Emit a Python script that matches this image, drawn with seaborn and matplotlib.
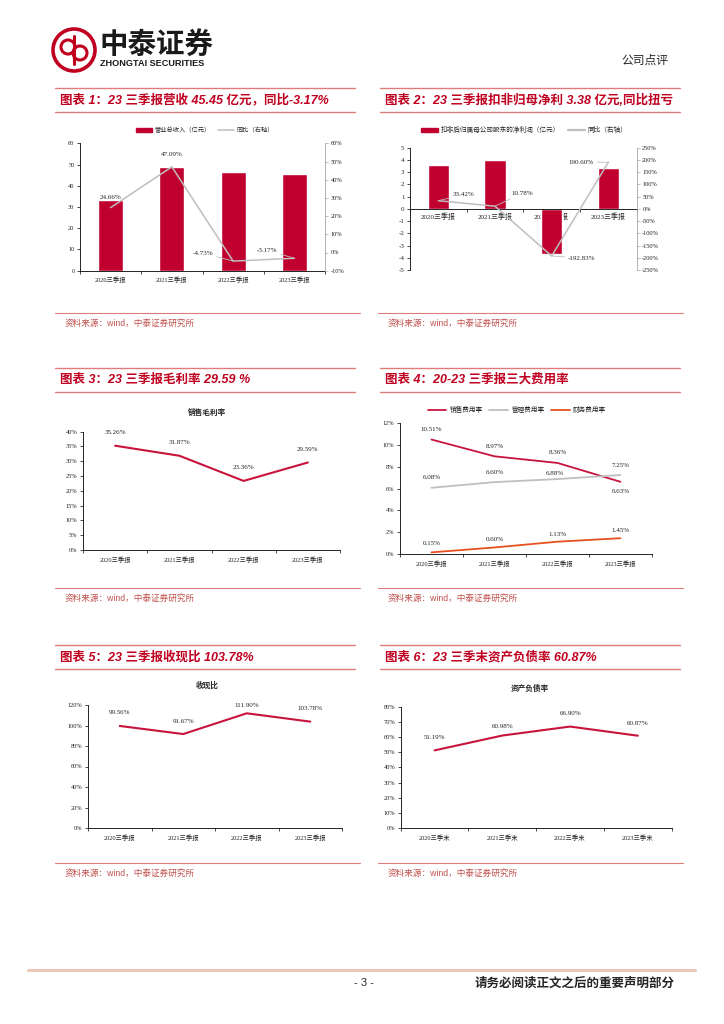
import matplotlib
matplotlib.use("Agg")

import numpy as np
import pandas as pd
import matplotlib.pyplot as plt
import seaborn as sns
from matplotlib.patches import Patch, Circle
from matplotlib.lines import Line2D
from matplotlib.ticker import FuncFormatter

W, H = 724, 1024

# ---- data ----
q3_years = ["2020三季报", "2021三季报", "2022三季报", "2023三季报"]
q3_end_years = ["2020三季末", "2021三季末", "2022三季末", "2023三季末"]

revenue = [33.30, 48.98, 46.66, 45.45]          # 亿元
revenue_yoy = [24.66, 47.09, -4.73, -3.17]      # %

net_profit = [3.61, 4.00, -3.71, 3.38]          # 亿元
net_profit_yoy = [33.42, 10.78, -192.83, 190.60]

gross_margin = [35.26, 31.87, 23.36, 29.59]

selling_rate = [10.51, 8.97, 8.36, 6.63]
admin_rate = [6.08, 6.60, 6.88, 7.25]
finance_rate = [0.15, 0.60, 1.13, 1.45]

cash_ratio = [99.56, 91.67, 111.90, 103.78]
debt_ratio = [51.19, 60.98, 66.90, 60.87]

titles = [
    "图表 1：23 三季报营收 45.45 亿元，同比-3.17%",
    "图表 2：23 三季报扣非归母净利 3.38 亿元,同比扭亏",
    "图表 3：23 三季报毛利率 29.59 %",
    "图表 4：20-23 三季报三大费用率",
    "图表 5：23 三季报收现比 103.78%",
    "图表 6：23 三季末资产负债率 60.87%",
]
source_text = "资料来源：wind，中泰证券研究所"

# ---- style ----
sns.set_theme(style="white")
plt.rcParams["font.family"] = ["Liberation Serif", "Noto Sans CJK SC", "DejaVu Sans"]
plt.rcParams["axes.unicode_minus"] = False

RED = "#C0002F"
LINE_RED = "#C8143C"
GRAY = "#BFBFBF"
ORANGE = "#E8501E"
TITLE_RED = "#C00020"
RULE = "#DE7B7B"
SRC = "#C0504D"
SANS = ["Liberation Sans", "Noto Sans CJK SC"]
CJK = ["Noto Sans CJK SC", "DejaVu Sans"]
FS = 4.6

pct = FuncFormatter(lambda v, _: f"{v:.0f}%")

fig = plt.figure(figsize=(W / 100, H / 100), dpi=100)
bg = fig.add_axes([0, 0, 1, 1], zorder=-1)
bg.set_xlim(0, W)
bg.set_ylim(H, 0)
bg.axis("off")


def px_axes(left, top, right, bottom):
    return fig.add_axes([left / W, 1 - bottom / H, (right - left) / W, (bottom - top) / H])


def base_style(ax, labels, fs=FS):
    n = len(labels)
    ax.set_xlim(-0.5, n - 0.5)
    ax.set_xticks(np.arange(n))
    ax.set_xticklabels(labels)
    ax.set_xticks(np.arange(n + 1) - 0.5, minor=True)
    ax.tick_params(axis="x", which="major", bottom=False, length=0, pad=4.5, labelsize=fs)
    ax.tick_params(axis="x", which="minor", bottom=True, length=2.5, width=0.5,
                   color="black", direction="out")
    ax.tick_params(axis="y", which="major", left=True, length=2.5, width=0.5,
                   color="black", direction="out", labelsize=fs, pad=1.5)
    for s in ("top", "right"):
        ax.spines[s].set_visible(False)
    for s in ("left", "bottom"):
        ax.spines[s].set_color("black")
        ax.spines[s].set_linewidth(0.6)
    ax.set_xlabel("")
    ax.set_ylabel("")
    ax.grid(False)


def right_style(ax):
    for s in ("top", "left", "bottom"):
        ax.spines[s].set_visible(False)
    ax.spines["right"].set_visible(True)
    ax.spines["right"].set_color("#A6A6A6")
    ax.spines["right"].set_linewidth(0.6)
    ax.tick_params(axis="y", right=True, left=False, length=2.5, width=0.5,
                   color="#A6A6A6", direction="out", labelsize=FS, pad=1.5)
    ax.yaxis.set_major_formatter(pct)
    ax.set_ylabel("")
    ax.set_xlabel("")
    ax.grid(False)


def annotate_all(ax, values, offsets, leaders=None, fs=5):
    if leaders is None:
        leaders = [False] * len(values)
    for i, (v, (dx, dy), ld) in enumerate(zip(values, offsets, leaders)):
        kw = {}
        if ld:
            kw["arrowprops"] = dict(arrowstyle="-", color=GRAY, lw=0.6, shrinkA=0, shrinkB=0)
        ax.annotate(f"{v:.2f}%", xy=(i, v), xytext=(dx * 0.72, dy * 0.72),
                    textcoords="offset points", ha="center", va="center",
                    fontsize=fs, color="#222222", **kw)


def title_block(x0, x1, y, text):
    bg.plot([x0, x1], [y - 12, y - 12], color=RULE, lw=1.0)
    bg.plot([x0, x1], [y + 12, y + 12], color=RULE, lw=1.0)
    bg.text(x0 + 5, y, text, color=TITLE_RED, fontsize=9, fontweight="bold",
            fontstyle="italic", family=SANS, va="center", ha="left")


def source_block(x0, x1, y):
    bg.plot([x0, x1], [y - 10, y - 10], color=RULE, lw=0.8)
    bg.text(x0 + 10, y, source_text, color=SRC, fontsize=6.2, family=SANS, va="center")


# ---- header / footer ----
LOGO = "#C0001F"
bg.add_patch(Circle((74, 50), 21, fill=False, ec=LOGO, lw=2.6))
bg.add_patch(Circle((68, 47), 7, fill=False, ec=LOGO, lw=2.2))
bg.add_patch(Circle((80, 53), 7, fill=False, ec=LOGO, lw=2.2))
bg.plot([74, 74], [36, 64], color=LOGO, lw=2.2)
bg.text(100, 45, "中泰证券", family=CJK, fontsize=20.5, fontweight="bold",
        color="#1a1a1a", va="center", ha="left")
bg.text(100, 64, "ZHONGTAI SECURITIES", family=["Liberation Sans"], fontsize=6.6,
        fontweight="bold", color="#1a1a1a", va="center", ha="left")
bg.text(668, 60, "公司点评", family=CJK, fontsize=8.5, va="center", ha="right")

bg.plot([28, 695], [970, 970], color="#EBC9B8", lw=2.2)
bg.text(364, 983, "- 3 -", family=["Liberation Sans"], fontsize=8, va="center", ha="center")
bg.text(675, 983, "请务必阅读正文之后的重要声明部分", family=CJK, fontsize=9,
        fontweight="bold", va="center", ha="right")

# section frames
title_block(55, 355, 100, titles[0])
title_block(380, 680, 100, titles[1])
source_block(55, 360, 323)
source_block(378, 683, 323)

title_block(55, 355, 380, titles[2])
title_block(380, 680, 380, titles[3])
source_block(55, 360, 598)
source_block(378, 683, 598)

title_block(55, 355, 657, titles[4])
title_block(380, 680, 657, titles[5])
source_block(55, 360, 873)
source_block(378, 683, 873)

pos = np.arange(len(q3_years))

# ---- chart 1: revenue ----
ax1 = px_axes(80, 143.3, 325, 270.7)
df1 = pd.DataFrame({"pos": pos, "rev": revenue, "yoy": revenue_yoy})
sns.barplot(data=df1, x="pos", y="rev", native_scale=True, width=0.41, color=RED,
            saturation=1, errorbar=None, ax=ax1)
ax1.set_ylim(0, 60)
ax1.set_yticks(range(0, 61, 10))
ax1b = ax1.twinx()
sns.lineplot(data=df1, x="pos", y="yoy", color=GRAY, lw=1.1, ax=ax1b)
ax1b.set_ylim(-10, 60)
ax1b.set_yticks(range(-10, 61, 10))
right_style(ax1b)
base_style(ax1, q3_years)
annotate_all(ax1b, revenue_yoy, [(0, 10), (0, 12), (-30, 8), (-27, 8)],
             leaders=[False, False, True, True])
h1 = [Patch(color=RED), Line2D([], [], color=GRAY, lw=1.1)]
ax1.legend(h1, ["营业总收入（亿元）", "同比（右轴）"], loc="center", ncol=2,
           bbox_to_anchor=(205 / W, 1 - 130 / H), bbox_transform=fig.transFigure,
           frameon=False, prop={"family": CJK, "size": 4.5}, handlelength=2.6,
           handleheight=0.6, columnspacing=1.2, handletextpad=0.4)

# ---- chart 2: net profit ----
ax2 = px_axes(410, 147.7, 636.7, 270)
df2 = pd.DataFrame({"pos": pos, "np": net_profit, "yoy": net_profit_yoy})
sns.barplot(data=df2, x="pos", y="np", native_scale=True, width=0.38, color=RED,
            saturation=1, errorbar=None, ax=ax2)
ax2.set_ylim(-5, 5)
ax2.set_yticks(range(-5, 6, 1))
ax2b = ax2.twinx()
sns.lineplot(data=df2, x="pos", y="yoy", color=GRAY, lw=1.1, ax=ax2b)
ax2b.set_ylim(-250, 250)
ax2b.set_yticks(range(-250, 251, 50))
right_style(ax2b)
base_style(ax2, q3_years, fs=5)
ax2.spines["bottom"].set_position(("data", 0))
ax2.tick_params(axis="x", which="major", pad=3)
annotate_all(ax2b, net_profit_yoy, [(25, 6), (27, 13), (30, -2), (-27, 0)],
             leaders=[True] * 4)
h2 = [Patch(color=RED), Line2D([], [], color=GRAY, lw=1.6)]
ax2.legend(h2, ["扣非后归属母公司股东的净利润（亿元）", "同比（右轴）"], loc="center", ncol=2,
           bbox_to_anchor=(524 / W, 1 - 130 / H), bbox_transform=fig.transFigure,
           frameon=False, prop={"family": CJK, "size": 4.8}, handlelength=2.6,
           handleheight=0.6, columnspacing=1.2, handletextpad=0.4)

# ---- chart 3: gross margin ----
ax3 = px_axes(83, 431.7, 340, 550)
sns.lineplot(x=pos, y=gross_margin, color=LINE_RED, lw=1.5, ax=ax3)
ax3.set_ylim(0, 40)
ax3.set_yticks(range(0, 41, 5))
ax3.yaxis.set_major_formatter(pct)
base_style(ax3, q3_years)
annotate_all(ax3, gross_margin, [(0, 13)] * 4)
bg.text(207, 412, "销售毛利率", family=CJK, fontsize=5.5, fontweight="bold",
        ha="center", va="center")

# ---- chart 4: expense ratios ----
ax4 = px_axes(400, 423.3, 652, 554)
sns.lineplot(x=pos, y=selling_rate, color=LINE_RED, lw=1.3, ax=ax4)
sns.lineplot(x=pos, y=admin_rate, color=GRAY, lw=1.3, ax=ax4)
sns.lineplot(x=pos, y=finance_rate, color=ORANGE, lw=1.3, ax=ax4)
ax4.set_ylim(0, 12)
ax4.set_yticks(range(0, 13, 2))
ax4.yaxis.set_major_formatter(pct)
base_style(ax4, q3_years)
annotate_all(ax4, selling_rate, [(0, 10), (0, 10), (0, 10), (0, -10)])
annotate_all(ax4, admin_rate, [(0, 10), (0, 10), (-3, 6), (0, 10)])
annotate_all(ax4, finance_rate, [(0, 9), (0, 8), (0, 7), (0, 8)])
h4 = [Line2D([], [], color=c, lw=1.3) for c in (LINE_RED, GRAY, ORANGE)]
ax4.legend(h4, ["销售费用率", "管理费用率", "财务费用率"], loc="center", ncol=3,
           bbox_to_anchor=(517 / W, 1 - 410 / H), bbox_transform=fig.transFigure,
           frameon=False, prop={"family": CJK, "size": 4.8}, handlelength=2.8,
           columnspacing=1.0, handletextpad=0.5)

# ---- chart 5: cash collection ratio ----
ax5 = px_axes(88, 705, 342, 828)
sns.lineplot(x=pos, y=cash_ratio, color=LINE_RED, lw=1.5, ax=ax5)
ax5.set_ylim(0, 120)
ax5.set_yticks(range(0, 121, 20))
ax5.yaxis.set_major_formatter(pct)
base_style(ax5, q3_years)
annotate_all(ax5, cash_ratio, [(0, 13), (0, 13), (0, 8), (0, 13)])
bg.text(207, 685, "收现比", family=CJK, fontsize=5.5, fontweight="bold",
        ha="center", va="center")

# ---- chart 6: debt ratio ----
ax6 = px_axes(400.7, 706.7, 671.7, 828)
sns.lineplot(x=pos, y=debt_ratio, color=LINE_RED, lw=1.5, ax=ax6)
ax6.set_ylim(0, 80)
ax6.set_yticks(range(0, 81, 10))
ax6.yaxis.set_major_formatter(pct)
base_style(ax6, q3_end_years)
annotate_all(ax6, debt_ratio, [(0, 13), (0, 9), (0, 13), (0, 12)])
bg.text(530, 688, "资产负债率", family=CJK, fontsize=5.5, fontweight="bold",
        ha="center", va="center")

fig.savefig("out.png", dpi=100, facecolor="white")
plt.close(fig)
